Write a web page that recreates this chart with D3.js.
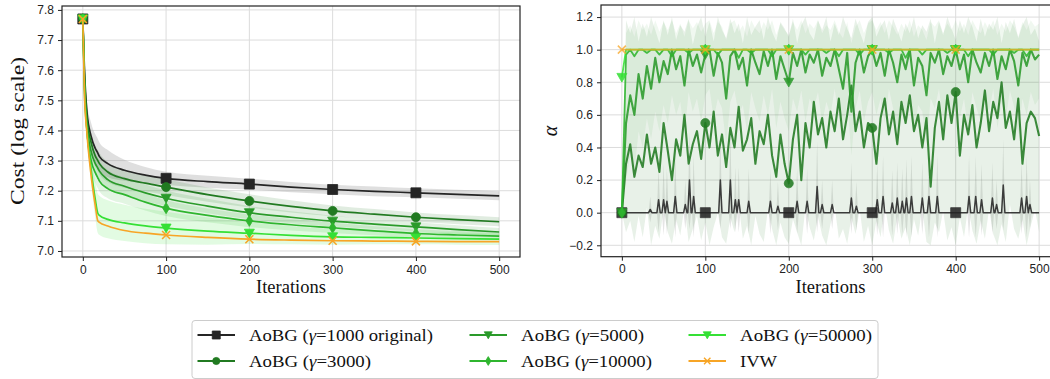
<!DOCTYPE html>
<html>
<head>
<meta charset="utf-8">
<script src="https://cdn.jsdelivr.net/npm/d3@7/dist/d3.min.js"></script>
<style>
  html, body { margin: 0; padding: 0; background: #fff; overflow: hidden; }
  svg { display: block; }
  .tick text { font-family: "Liberation Sans", Arial, sans-serif; font-size: 12px; fill: #222; }
  .tick line { stroke: #222; stroke-width: 1; }
  .serif { font-family: "Liberation Serif", "Times New Roman", serif; fill: #111; }
</style>
</head>
<body>
<svg id="fig" width="1050" height="379"></svg>
<script>
// main.js – AoBG vs IVW: cost and alpha over iterations

// ---------------------------
// Shared axis values
// ---------------------------
const X_TICKS = [0, 100, 200, 300, 400, 500];
const MARK_ITERS = [0, 100, 200, 300, 400];   // markevery = 100
const COST_TICKS = [7.0, 7.1, 7.2, 7.3, 7.4, 7.5, 7.6, 7.7, 7.8];
const ALPHA_TICKS = [-0.2, 0.0, 0.2, 0.4, 0.6, 0.8, 1.0, 1.2];

// ---------------------------
// Cost panel (log cost), mean and spread per gamma
// ---------------------------
const costIters = [0, 2, 5, 10, 15, 18, 20, 30, 50, 75, 100, 150, 200, 250, 300, 350, 400, 450, 500];

const cost1000  = [7.77, 7.60, 7.46, 7.38, 7.34, 7.325, 7.313, 7.29, 7.268, 7.252, 7.241, 7.23, 7.222, 7.212, 7.204, 7.198, 7.193, 7.188, 7.183];
const cost3000  = [7.77, 7.58, 7.44, 7.36, 7.315, 7.30, 7.29, 7.262, 7.24, 7.225, 7.212, 7.187, 7.166, 7.148, 7.133, 7.122, 7.112, 7.104, 7.097];
const cost5000  = [7.77, 7.56, 7.42, 7.33, 7.29, 7.275, 7.265, 7.237, 7.215, 7.193, 7.175, 7.149, 7.127, 7.112, 7.099, 7.089, 7.08, 7.071, 7.063];
const cost10000 = [7.77, 7.55, 7.40, 7.30, 7.26, 7.243, 7.232, 7.207, 7.187, 7.162, 7.142, 7.118, 7.10, 7.087, 7.077, 7.067, 7.058, 7.053, 7.049];
const cost50000 = [7.77, 7.53, 7.40, 7.27, 7.17, 7.125, 7.118, 7.105, 7.093, 7.083, 7.076, 7.066, 7.059, 7.052, 7.047, 7.045, 7.043, 7.041, 7.039];
const costIvw   = [7.77, 7.52, 7.39, 7.25, 7.15, 7.10, 7.095, 7.083, 7.068, 7.059, 7.053, 7.045, 7.039, 7.036, 7.034, 7.033, 7.032, 7.031, 7.031];

const costSd1000  = [0, 0.02, 0.035, 0.045, 0.047, 0.047, 0.047, 0.045, 0.035, 0.027, 0.022, 0.02, 0.018, 0.017, 0.016, 0.016, 0.015, 0.015, 0.015];
const costSd3000  = [0, 0.02, 0.03, 0.035, 0.035, 0.035, 0.035, 0.033, 0.03, 0.028, 0.026, 0.024, 0.022, 0.02, 0.018, 0.017, 0.016, 0.015, 0.015];
const costSd5000  = [0, 0.02, 0.03, 0.035, 0.035, 0.035, 0.034, 0.032, 0.03, 0.028, 0.026, 0.024, 0.022, 0.02, 0.018, 0.016, 0.015, 0.014, 0.013];
const costSd10000 = [0, 0.02, 0.03, 0.035, 0.035, 0.035, 0.034, 0.032, 0.03, 0.028, 0.026, 0.023, 0.021, 0.019, 0.017, 0.015, 0.014, 0.013, 0.012];
const costSd50000 = [0, 0.02, 0.03, 0.045, 0.06, 0.065, 0.065, 0.063, 0.06, 0.057, 0.054, 0.045, 0.036, 0.03, 0.026, 0.023, 0.021, 0.02, 0.019];

// ---------------------------
// Alpha panel, sampled every 5 iterations (0..500)
// ---------------------------
const ALPHA_STEP = 5;

const alpha3000 = [
  0.00, 0.30, 0.42, 0.22, 0.35, 0.28, 0.48, 0.30, 0.40, 0.25,
  0.55, 0.38, 0.20, 0.45, 0.35, 0.60, 0.30, 0.42, 0.50, 0.33,
  0.55, 0.40, 0.62, 0.35, 0.48, 0.28, 0.52, 0.40, 0.65, 0.38,
  0.45, 0.58, 0.30, 0.50, 0.42, 0.60, 0.35, 0.22, 0.48, 0.30,
  0.18, 0.45, 0.60, 0.20, 0.55, 0.40, 0.68, 0.48, 0.58, 0.40,
  0.62, 0.50, 0.70, 0.45, 0.60, 0.78, 0.50, 0.62, 0.40, 0.55,
  0.52, 0.30, 0.58, 0.70, 0.48, 0.62, 0.42, 0.68, 0.55, 0.72,
  0.50, 0.60, 0.40, 0.58, 0.16, 0.52, 0.68, 0.45, 0.72, 0.55,
  0.74, 0.35, 0.60, 0.48, 0.66, 0.40, 0.55, 0.75, 0.50, 0.68,
  0.58, 0.80, 0.52, 0.62, 0.45, 0.70, 0.30, 0.55, 0.62, 0.58,
  0.47
];
const alpha3000Lo = [
  0.00, -0.12, -0.05, -0.18, -0.02, -0.15, 0.03, -0.20, -0.08, -0.16,
  0.02, -0.12, -0.19, -0.04, -0.14, 0.04, -0.18, -0.10, -0.02, -0.17,
  -0.06, -0.20, -0.09, 0.00, -0.15, -0.19, -0.03, -0.12, 0.05, -0.16,
  -0.08, -0.20, -0.02, -0.13, -0.18, 0.02, -0.10, -0.20, -0.06, -0.15,
  -0.19, -0.04, -0.12, -0.20, 0.03, -0.09, -0.17, -0.02, -0.14, -0.20,
  -0.07, 0.04, -0.16, -0.10, -0.19, -0.03, -0.13, 0.02, -0.18, -0.08,
  -0.20, -0.05, -0.15, 0.05, -0.11, -0.19, -0.02, -0.16, -0.09, -0.20,
  -0.04, -0.14, 0.03, -0.18, -0.20, -0.06, -0.12, 0.01, -0.17, -0.09,
  -0.20, -0.03, -0.15, 0.04, -0.11, -0.19, -0.05, -0.16, 0.02, -0.13,
  -0.20, -0.07, -0.18, 0.05, -0.10, -0.16, -0.04, -0.20, -0.08, 0.02,
  -0.12
];
const alpha3000Hi = [
  0.02, 1.18, 1.10, 1.20, 1.05, 1.16, 1.08, 1.20, 1.12, 1.04,
  1.18, 1.09, 1.20, 1.06, 1.15, 1.11, 1.19, 1.03, 1.14, 1.20,
  1.08, 1.17, 1.05, 1.20, 1.12, 1.07, 1.19, 1.10, 1.16, 1.04,
  1.20, 1.09, 1.14, 1.18, 1.06, 1.20, 1.11, 1.05, 1.17, 1.13,
  1.08, 1.19, 1.04, 1.15, 1.20, 1.10, 1.06, 1.18, 1.12, 1.20,
  1.05, 1.16, 1.09, 1.20, 1.13, 1.07, 1.19, 1.11, 1.04, 1.17,
  1.20, 1.08, 1.14, 1.18, 1.06, 1.19, 1.12, 1.05, 1.16, 1.10,
  1.20, 1.07, 1.15, 1.11, 1.19, 1.04, 1.17, 1.09, 1.20, 1.13,
  1.06, 1.18, 1.10, 1.20, 1.14, 1.05, 1.19, 1.08, 1.16, 1.12,
  1.20, 1.04, 1.17, 1.10, 1.19, 1.07, 1.15, 1.20, 1.09, 1.13,
  1.05
];

const alpha5000 = [
  0.00, 0.55, 0.72, 0.60, 0.85, 0.70, 0.90, 0.76, 0.95, 0.80,
  0.93, 0.85, 1.00, 0.88, 0.96, 0.78, 1.00, 0.90, 0.97, 0.86,
  0.97, 1.00, 0.84, 0.98, 0.92, 0.70, 0.96, 1.00, 0.88, 0.95,
  0.78, 1.00, 0.92, 0.85, 0.99, 0.90, 1.00, 0.82, 0.96, 0.88,
  0.80, 0.98, 0.90, 1.00, 0.86, 0.97, 0.92, 1.00, 0.84, 0.95,
  0.90, 1.00, 0.88, 0.76, 0.98, 0.62, 0.92, 1.00, 0.86, 0.96,
  1.00, 0.90, 0.98, 0.84, 1.00, 0.92, 0.80, 0.97, 0.88, 1.00,
  0.78, 0.95, 0.90, 0.72, 0.98, 0.92, 1.00, 0.85, 0.96, 0.90,
  1.00, 0.88, 0.97, 0.80, 1.00, 0.92, 0.86, 0.98, 0.90, 1.00,
  0.82, 0.96, 0.88, 1.00, 0.93, 0.78, 0.98, 0.90, 1.00, 0.94,
  0.97
];
const alpha5000Lo = [
  0.00, 0.20, 0.35, 0.25, 0.50, 0.40, 0.58, 0.45, 0.62, 0.50,
  0.66, 0.55, 0.72, 0.60, 0.68, 0.48, 0.74, 0.62, 0.70, 0.56,
  0.72, 0.76, 0.58, 0.70, 0.64, 0.42, 0.68, 0.75, 0.60, 0.66,
  0.50, 0.74, 0.64, 0.56, 0.72, 0.60, 0.76, 0.52, 0.68, 0.58,
  0.50, 0.70, 0.62, 0.75, 0.56, 0.70, 0.64, 0.74, 0.55, 0.68,
  0.60, 0.76, 0.58, 0.46, 0.70, 0.35, 0.64, 0.75, 0.56, 0.68,
  0.74, 0.60, 0.70, 0.55, 0.76, 0.64, 0.50, 0.70, 0.58, 0.75,
  0.48, 0.66, 0.62, 0.42, 0.70, 0.64, 0.76, 0.56, 0.68, 0.60,
  0.75, 0.58, 0.70, 0.50, 0.74, 0.64, 0.56, 0.70, 0.62, 0.76,
  0.52, 0.68, 0.58, 0.75, 0.65, 0.48, 0.70, 0.60, 0.74, 0.66,
  0.70
];
const alpha5000Hi = [
  0.00, 1.10, 1.15, 1.08, 1.18, 1.12, 1.16, 1.09, 1.18, 1.11,
  1.17, 1.12, 1.18, 1.10, 1.16, 1.08, 1.18, 1.13, 1.17, 1.11,
  1.16, 1.18, 1.10, 1.17, 1.14, 1.06, 1.16, 1.18, 1.11, 1.15,
  1.08, 1.18, 1.13, 1.10, 1.17, 1.12, 1.18, 1.09, 1.16, 1.12,
  1.09, 1.17, 1.12, 1.18, 1.10, 1.16, 1.13, 1.18, 1.10, 1.15,
  1.12, 1.18, 1.11, 1.07, 1.17, 1.04, 1.14, 1.18, 1.10, 1.16,
  1.18, 1.12, 1.17, 1.10, 1.18, 1.14, 1.09, 1.16, 1.11, 1.18,
  1.08, 1.15, 1.12, 1.06, 1.17, 1.14, 1.18, 1.10, 1.16, 1.12,
  1.18, 1.11, 1.16, 1.09, 1.18, 1.13, 1.10, 1.17, 1.12, 1.18,
  1.09, 1.16, 1.11, 1.18, 1.14, 1.08, 1.17, 1.12, 1.18, 1.14,
  1.16
];

const alpha10000 = [
  0.00, 0.97, 1, 0.96, 1, 1, 0.98, 1, 1, 0.97,
  1, 1, 0.96, 1, 1, 1, 0.98, 1, 1, 1,
  1, 1, 1, 0.97, 1, 1, 1, 1, 0.95, 1,
  1, 0.98, 1, 1, 1, 1, 0.96, 1, 1, 1,
  1, 1, 1, 1, 0.97, 1, 1, 1, 1, 0.98,
  1, 1, 0.96, 1, 1, 1, 1, 0.97, 1, 1,
  1, 1, 1, 1, 0.98, 1, 1, 1, 0.95, 1,
  1, 1, 0.97, 1, 1, 1, 1, 1, 0.98, 1,
  1, 1, 1, 0.96, 1, 1, 1, 1, 1, 0.97,
  1, 1, 1, 1, 0.98, 1, 1, 0.96, 1, 1,
  1
];
const alpha50000 = [
  0.83, 1, 1, 1, 1, 1, 1, 1, 1, 1,
  1, 1, 1, 1, 1, 1, 1, 1, 1, 1,
  1, 1, 1, 1, 1, 1, 1, 1, 1, 1,
  1, 1, 1, 1, 1, 1, 1, 1, 1, 1,
  1, 1, 1, 1, 1, 1, 1, 1, 1, 1,
  1, 1, 1, 1, 1, 1, 1, 1, 1, 1,
  1, 1, 1, 1, 1, 1, 1, 1, 1, 1,
  1, 1, 1, 1, 1, 1, 1, 1, 1, 1,
  1, 1, 1, 1, 1, 1, 1, 1, 1, 1,
  1, 1, 1, 1, 1, 1, 1, 1, 1, 1,
  1
];
const alphaIvw = [
  1, 1, 1, 1, 1, 1, 1, 1, 1, 1,
  1, 1, 1, 1, 1, 1, 1, 1, 1, 1,
  1, 1, 1, 1, 1, 1, 1, 1, 1, 1,
  1, 1, 1, 1, 1, 1, 1, 1, 1, 1,
  1, 1, 1, 1, 1, 1, 1, 1, 1, 1,
  1, 1, 1, 1, 1, 1, 1, 1, 1, 1,
  1, 1, 1, 1, 1, 1, 1, 1, 1, 1,
  1, 1, 1, 1, 1, 1, 1, 1, 1, 1,
  1, 1, 1, 1, 1, 1, 1, 1, 1, 1,
  1, 1, 1, 1, 1, 1, 1, 1, 1, 1,
  1
];

// gamma = 1000 stays at 0 with short spikes: [iteration, mean, sd]
const alpha1000 = [
  [0, 0, 0],
  [32, 0, 0], [34, .02, .08], [36, 0, 0],
  [42, 0, 0], [44, .08, .2], [46, 0, 0],
  [48, 0, 0], [50, .08, .22], [52, 0, 0], [54, .07, .2], [56, 0, 0],
  [62, 0, 0], [64, .10, .25], [66, 0, 0],
  [74, 0, 0], [76, .05, .15], [78, 0, 0],
  [79, 0, 0], [81, .20, .3], [83, 0, 0],
  [84, 0, 0], [86, .10, .25], [88, 0, 0],
  [100, 0, 0],
  [116, 0, 0], [118, .20, .3], [120, 0, 0],
  [128, 0, 0], [130, .20, .3], [132, 0, 0],
  [134, 0, 0], [136, .08, .2], [138, 0, 0], [140, .08, .2], [142, 0, 0],
  [150, 0, 0], [152, .07, .2], [154, 0, 0],
  [176, 0, 0], [178, .07, .2], [180, 0, 0],
  [185, 0, 0], [187, .04, .15], [189, 0, 0],
  [200, 0, 0],
  [208, 0, 0], [210, .07, .2], [212, 0, 0],
  [220, 0, 0], [222, .07, .2], [224, 0, 0],
  [232, 0, 0], [234, .16, .28], [236, 0, 0],
  [238, 0, 0], [240, .05, .15], [242, 0, 0],
  [250, 0, 0], [252, .05, .15], [254, 0, 0],
  [273, 0, 0], [275, .09, .22], [277, 0, 0],
  [279, 0, 0], [281, .04, .15], [283, 0, 0],
  [300, 0, 0],
  [304, 0, 0], [306, .08, .22], [308, 0, 0],
  [311, 0, 0], [313, .10, .25], [315, 0, 0],
  [322, 0, 0], [324, .06, .2], [326, 0, 0],
  [328, 0, 0], [330, .09, .22], [332, 0, 0],
  [334, 0, 0], [336, .07, .2], [338, 0, 0],
  [339, 0, 0], [341, .09, .24], [343, 0, 0],
  [345, 0, 0], [347, .10, .25], [349, 0, 0],
  [358, 0, 0], [360, .09, .22], [362, 0, 0],
  [366, 0, 0], [368, .10, .25], [370, 0, 0],
  [376, 0, 0], [378, .10, .25], [380, 0, 0],
  [400, 0, 0],
  [414, 0, 0], [416, .10, .25], [418, 0, 0],
  [422, 0, 0], [424, .10, .25], [426, 0, 0],
  [429, 0, 0], [431, .08, .22], [433, 0, 0],
  [442, 0, 0], [444, .09, .22], [446, 0, 0],
  [447, 0, 0], [449, .05, .15], [451, 0, 0],
  [455, 0, 0], [457, .17, .28], [459, 0, 0],
  [477, 0, 0], [479, .09, .22], [481, 0, 0],
  [483, 0, 0], [485, .10, .25], [487, 0, 0], [489, .05, .15], [491, 0, 0],
  [500, 0, 0]
];

// ---------------------------
// Series styling
// ---------------------------
const SERIES = [
  { key: "g1000",  label: ["AoBG (", "γ", "=1000 original)"], color: "#252525", marker: "square",
    cost: cost1000, costSd: costSd1000 },
  { key: "g3000",  label: ["AoBG (", "γ", "=3000)"],  color: "#217a21", marker: "circle",
    cost: cost3000, costSd: costSd3000, alpha: alpha3000 },
  { key: "g5000",  label: ["AoBG (", "γ", "=5000)"],  color: "#2a9a2a", marker: "tri",
    cost: cost5000, costSd: costSd5000, alpha: alpha5000 },
  { key: "g10000", label: ["AoBG (", "γ", "=10000)"], color: "#2fb52f", marker: "diamond",
    cost: cost10000, costSd: costSd10000, alpha: alpha10000 },
  { key: "g50000", label: ["AoBG (", "γ", "=50000)"], color: "#35e035", marker: "tri",
    cost: cost50000, costSd: costSd50000, alpha: alpha50000 },
  { key: "ivw",    label: ["IVW"], color: "#f7a526", marker: "x",
    cost: costIvw, costSd: null, alpha: alphaIvw }
];

const svg = d3.select("#fig");

// ---------------------------
// Helpers
// ---------------------------
function markerPath(kind, s) {
  const h = s / 2;
  switch (kind) {
    case "square":  return `M${-h},${-h}H${h}V${h}H${-h}Z`;
    case "circle":  return d3.symbol(d3.symbolCircle, Math.PI * h * h)();
    case "tri":     return `M${-h},${-h * 0.8}L${h},${-h * 0.8}L0,${h * 0.95}Z`;
    case "diamond": return `M0,${-h}L${h * 0.62},0L0,${h}L${-h * 0.62},0Z`;
    case "x":       return `M${-h},${-h}L${h},${h}M${h},${-h}L${-h},${h}`;
  }
}

const MARKER_SIZE = { square: 10, circle: 9, tri: 10, diamond: 11, x: 8 };

function drawMarkers(g, pts, s, opacity) {
  const size = MARKER_SIZE[s.marker];
  g.append("g").selectAll("path")
    .data(pts)
    .join("path")
    .attr("transform", d => `translate(${d[0]},${d[1]})`)
    .attr("d", markerPath(s.marker, size))
    .attr("fill", s.marker === "x" ? "none" : s.color)
    .attr("stroke", s.color)
    .attr("stroke-width", s.marker === "x" ? 1.6 : 0.8)
    .attr("opacity", opacity);
}

function drawAxes(g, x, y, yTicks, yFmt, clipId) {
  const [px0, px1] = x.range();
  const [py1, py0] = y.range();

  g.append("clipPath").attr("id", clipId)
    .append("rect")
    .attr("x", px0).attr("y", py0)
    .attr("width", px1 - px0).attr("height", py1 - py0);

  const grid = g.append("g").attr("class", "grid");
  grid.selectAll("line.vx")
    .data(X_TICKS)
    .join("line")
    .attr("class", "vx")
    .attr("x1", d => x(d)).attr("x2", d => x(d))
    .attr("y1", py0).attr("y2", py1)
    .attr("stroke", "#dcdcdc").attr("stroke-width", 1);
  grid.selectAll("line.hy")
    .data(yTicks)
    .join("line")
    .attr("class", "hy")
    .attr("x1", px0).attr("x2", px1)
    .attr("y1", d => y(d)).attr("y2", d => y(d))
    .attr("stroke", "#dcdcdc").attr("stroke-width", 1);

  g.append("g")
    .attr("transform", `translate(${px0},0)`)
    .call(d3.axisLeft(y).tickValues(yTicks).tickFormat(yFmt).tickSize(4).tickPadding(4))
    .call(a => a.select(".domain").remove());

  g.append("g")
    .attr("transform", `translate(0,${py1})`)
    .call(d3.axisBottom(x).tickValues(X_TICKS).tickFormat(d3.format("d")).tickSize(4).tickPadding(4))
    .call(a => a.select(".domain").remove());
}

function drawFrame(g, x, y) {
  const [px0, px1] = x.range();
  const [py1, py0] = y.range();
  g.append("rect")
    .attr("x", px0).attr("y", py0)
    .attr("width", px1 - px0).attr("height", py1 - py0)
    .attr("fill", "none")
    .attr("stroke", "#222")
    .attr("stroke-width", 1.2);
}

function serifLabel(g, parts, attrs) {
  const t = g.append("text").attr("class", "serif");
  Object.entries(attrs).forEach(([k, v]) => t.attr(k, v));
  parts.forEach(p => {
    const span = t.append("tspan").text(p);
    if (p === "γ" || p === "α") span.attr("font-style", "italic");
  });
  return t;
}

// ---------------------------
// Left: cost
// ---------------------------
const xCost = d3.scaleLinear().domain([-25, 525]).range([62, 520]);
const yCost = d3.scaleLinear().domain([6.98, 7.813]).range([257, 6]);

const gCost = svg.append("g");
drawAxes(gCost, xCost, yCost, COST_TICKS, d3.format(".1f"), "clip-cost");

const costPlot = gCost.append("g").attr("clip-path", "url(#clip-cost)");

const costArea = d3.area()
  .x(d => xCost(d[0]))
  .y0(d => yCost(d[1] - d[2]))
  .y1(d => yCost(d[1] + d[2]))
  .curve(d3.curveMonotoneX);

const costLine = d3.line()
  .x(d => xCost(d[0]))
  .y(d => yCost(d[1]))
  .curve(d3.curveMonotoneX);

SERIES.forEach(s => {
  if (!s.costSd) return;
  const rows = costIters.map((it, i) => [it, s.cost[i], s.costSd[i]]);
  costPlot.append("path")
    .attr("d", costArea(rows))
    .attr("fill", s.key === "g1000" ? "#9a9a9a" : s.color)
    .attr("fill-opacity", s.key === "g1000" ? 0.32 : 0.14);
});

SERIES.forEach(s => {
  const rows = costIters.map((it, i) => [it, s.cost[i]]);
  costPlot.append("path")
    .attr("d", costLine(rows))
    .attr("fill", "none")
    .attr("stroke", s.color)
    .attr("stroke-width", 1.7);
  const pts = rows.filter(r => MARK_ITERS.includes(r[0])).map(r => [xCost(r[0]), yCost(r[1])]);
  drawMarkers(costPlot, pts, s, 1);
});

drawFrame(gCost, xCost, yCost);

// ---------------------------
// Right: alpha
// ---------------------------
const xAlpha = d3.scaleLinear().domain([-25, 525]).range([601, 1060]);
const yAlpha = d3.scaleLinear().domain([-0.27, 1.274]).range([256.7, 5]);

const gAlpha = svg.append("g");
drawAxes(gAlpha, xAlpha, yAlpha, ALPHA_TICKS, d3.format(".1f"), "clip-alpha");

const alphaPlot = gAlpha.append("g").attr("clip-path", "url(#clip-alpha)");
const alphaIters = d3.range(0, 501, ALPHA_STEP);

const bandArea = d3.area()
  .x(d => xAlpha(d[0]))
  .y0(d => yAlpha(d[1]))
  .y1(d => yAlpha(d[2]));

const alphaLine = d3.line()
  .x(d => xAlpha(d[0]))
  .y(d => yAlpha(d[1]));

// bands
alphaPlot.append("path")
  .attr("d", bandArea(alpha1000.map(d => [d[0], d[1] - d[2], d[1] + d[2]])))
  .attr("fill", "#8a8a8a").attr("fill-opacity", 0.22);
alphaPlot.append("path")
  .attr("d", bandArea(alphaIters.map((it, i) => [it, alpha3000Lo[i], alpha3000Hi[i]])))
  .attr("fill", "#217a21").attr("fill-opacity", 0.1);
alphaPlot.append("path")
  .attr("d", bandArea(alphaIters.map((it, i) => [it, alpha5000Lo[i], alpha5000Hi[i]])))
  .attr("fill", "#2a9a2a").attr("fill-opacity", 0.07);

// lines + markers
const ALPHA_WIDTH = { g1000: 1.5, g3000: 2.1, g5000: 2.1, g10000: 1.8, g50000: 1.8, ivw: 1.8 };
SERIES.forEach(s => {
  const rows = s.key === "g1000"
    ? alpha1000.map(d => [d[0], d[1]])
    : alphaIters.map((it, i) => [it, s.alpha[i]]);
  const op = s.key === "ivw" ? 0.75 : 0.88;
  alphaPlot.append("path")
    .attr("d", alphaLine(rows))
    .attr("fill", "none")
    .attr("stroke", s.color)
    .attr("stroke-width", ALPHA_WIDTH[s.key])
    .attr("stroke-linejoin", "round")
    .attr("opacity", op);
  const pts = rows.filter(r => MARK_ITERS.includes(r[0])).map(r => [xAlpha(r[0]), yAlpha(r[1])]);
  drawMarkers(alphaPlot, pts, s, op);
});

drawFrame(gAlpha, xAlpha, yAlpha);

// ---------------------------
// Axis titles
// ---------------------------
serifLabel(svg, ["Cost  (log scale)"], {
  transform: "translate(24,131) rotate(-90)",
  "text-anchor": "middle", "font-size": 19.5, textLength: 148, lengthAdjust: "spacingAndGlyphs"
});
serifLabel(svg, ["α"], {
  transform: "translate(557,131) rotate(-90)",
  "text-anchor": "middle", "font-size": 20
});
serifLabel(svg, ["Iterations"], {
  x: (xCost.range()[0] + xCost.range()[1]) / 2, y: 293,
  "text-anchor": "middle", "font-size": 18.5
});
serifLabel(svg, ["Iterations"], {
  x: (xAlpha.range()[0] + xAlpha.range()[1]) / 2, y: 293,
  "text-anchor": "middle", "font-size": 18.5
});

// ---------------------------
// Legend
// ---------------------------
const LEGEND_COLS = [197.5, 469.5, 688.5];
const LEGEND_ROWS = [335, 361];
const LEGEND_TEXT_W = [184, 122, 123, 131, 132, 37];

const legend = svg.append("g");
legend.append("rect")
  .attr("x", 192).attr("y", 320.5)
  .attr("width", 686).attr("height", 58)
  .attr("rx", 3)
  .attr("fill", "#fff")
  .attr("stroke", "#cccccc")
  .attr("stroke-width", 1);

SERIES.forEach((s, i) => {
  const col = Math.floor(i / 2), row = i % 2;
  const x0 = LEGEND_COLS[col], y0 = LEGEND_ROWS[row];
  const item = legend.append("g");
  item.append("line")
    .attr("x1", x0).attr("x2", x0 + 37.5)
    .attr("y1", y0).attr("y2", y0)
    .attr("stroke", s.color).attr("stroke-width", 2);
  item.append("path")
    .attr("transform", `translate(${x0 + 18.75},${y0})`)
    .attr("d", markerPath(s.marker, MARKER_SIZE[s.marker] * 0.8))
    .attr("fill", s.marker === "x" ? "none" : s.color)
    .attr("stroke", s.color)
    .attr("stroke-width", s.marker === "x" ? 1.4 : 0.8);
  serifLabel(item, s.label, {
    x: x0 + 51.5, y: y0 + 5.5, "font-size": 16,
    textLength: LEGEND_TEXT_W[i], lengthAdjust: "spacingAndGlyphs"
  });
});
</script>
</body>
</html>
